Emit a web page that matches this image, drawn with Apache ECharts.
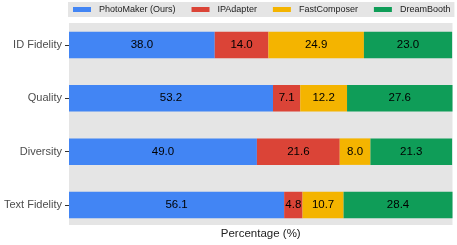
<!DOCTYPE html>
<html>
<head>
<meta charset="utf-8">
<script src="https://cdn.jsdelivr.net/npm/echarts@6/dist/echarts.min.js"></script>
<style>html,body{margin:0;padding:0;background:#fff}#c{width:457px;height:245px}</style>
</head>
<body>
<div id="c"></div>
<script>
const categories = ['ID Fidelity', 'Quality', 'Diversity', 'Text Fidelity'];
const seriesNames = ['PhotoMaker (Ours)', 'IPAdapter', 'FastComposer', 'DreamBooth'];
const photomaker = [38.0, 53.2, 49.0, 56.1];
const ipadapter = [14.0, 7.1, 21.6, 4.8];
const fastcomposer = [24.9, 12.2, 8.0, 10.7];
const dreambooth = [23.0, 27.6, 21.3, 28.4];
const colors = ['#4285F4', '#DB4437', '#F4B400', '#0F9D58'];

const FONT = 'Liberation Sans, Arial, Helvetica, sans-serif';
const chart = echarts.init(document.getElementById('c'), null, {renderer: 'canvas'});
const values = [photomaker, ipadapter, fastcomposer, dreambooth];

chart.setOption({
  animation: false,
  textStyle: {fontFamily: FONT},
  legend: {
    data: seriesNames,
    left: 68, top: 2,
    icon: 'rect', itemWidth: 18, itemHeight: 5, itemGap: 16,
    padding: [2, 4, 2, 5],
    backgroundColor: '#E5E5E5',
    textStyle: {fontFamily: FONT, fontSize: 9, color: '#222', lineHeight: 11, padding: [0, 0, 0, 3]}
  },
  grid: [
    {left: 69, right: 4.5, top: 23, bottom: 18, show: true, backgroundColor: '#E5E5E5', borderWidth: 0},
    {left: 69, right: 4.5, top: 18.2, bottom: 13.3}
  ],
  xAxis: [
    {gridIndex: 0, type: 'value', min: 0, max: 100,
     axisLine: {show: false}, axisTick: {show: false}, axisLabel: {show: false}, splitLine: {show: false},
     name: 'Percentage (%)', nameLocation: 'middle', nameGap: 3,
     nameTextStyle: {fontFamily: FONT, fontSize: 11.5, color: '#222'}},
    {gridIndex: 1, type: 'value', min: 0, max: 100,
     axisLine: {show: false}, axisTick: {show: false}, axisLabel: {show: false}, splitLine: {show: false}}
  ],
  yAxis: [
    {gridIndex: 0, type: 'value', show: false},
    {gridIndex: 1, type: 'category', data: categories, inverse: true,
     axisLine: {show: false},
     axisTick: {show: true, alignWithLabel: true, length: 4, lineStyle: {color: '#333', width: 1}},
     axisLabel: {margin: 7, fontFamily: FONT, fontSize: 11, color: '#4D4D4D'}}
  ],
  series: seriesNames.map((n, i) => ({
    name: n, type: 'bar', stack: 'total', xAxisIndex: 1, yAxisIndex: 1,
    data: values[i], barWidth: 26.5,
    itemStyle: {color: colors[i]},
    label: {show: true, position: 'inside', color: '#000', fontFamily: FONT, fontSize: 11.5,
      formatter: p => p.value.toFixed(1)}
  }))
});
</script>
</body>
</html>
